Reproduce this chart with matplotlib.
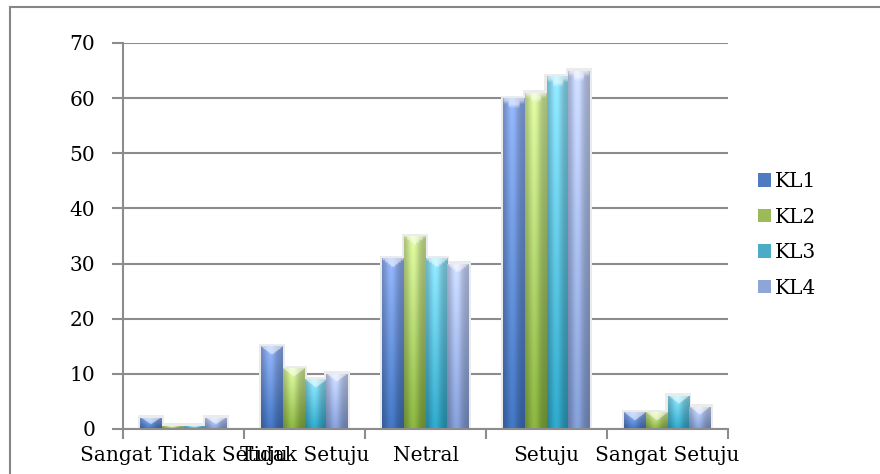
import numpy as np
import matplotlib.pyplot as plt
from matplotlib.colors import to_rgb
from matplotlib.lines import Line2D
from matplotlib.patches import Patch

# ==========================
# data
# ==========================

categories = ["Sangat Tidak Setuju", "Tidak Setuju", "Netral", "Setuju", "Sangat Setuju"]
series_names = ["KL1", "KL2", "KL3", "KL4"]

kl1 = [2, 15, 31, 60, 3]
kl2 = [0.6, 11, 35, 61, 3]
kl3 = [0.6, 9, 31, 64, 6]
kl4 = [2, 10, 30, 65, 4]

y_ticks = [0, 10, 20, 30, 40, 50, 60, 70]

# bottom (darker) / top (lighter) colour of each series
dark_cols = ["#3E6FB8", "#82AA3C", "#2C9FBF", "#7D96CC"]
light_cols = ["#8CABEC", "#D2EC98", "#8ADCF2", "#C4D2F6"]
legend_cols = ["#4F7CC0", "#9BBB59", "#4BACC6", "#8EA5D8"]

plt.rcParams["font.family"] = ["DejaVu Serif"]
plt.rcParams["font.size"] = 14.5

fig = plt.figure(figsize=(8.8, 4.74), dpi=100)
ax = fig.add_axes([123 / 880, 45 / 474, 605 / 880, 386 / 474])

bar_w = 0.18
offsets = np.array([-1.5, -0.5, 0.5, 1.5]) * bar_w
x = np.arange(len(categories))


def shaded_bar(xc, h, c_dark, c_light):
    # soft halo behind the bar
    ax.bar(xc, h + 0.45, width=bar_w + 0.035, color="#ebebeb",
           linewidth=0, zorder=1.5)
    patch = ax.bar(xc, h, width=bar_w, color=c_dark, linewidth=0,
                   zorder=2)[0]
    if h <= 0:
        return
    n_u, n_v = 40, 80
    u = np.linspace(0, 1, n_u)
    v = np.linspace(0, 1, n_v)[:, None]
    d0 = np.array(to_rgb(c_dark))
    d1 = np.array(to_rgb(c_light))
    base = d0[None, None, :] * (1 - v[..., None]) + d1[None, None, :] * v[..., None]
    base = np.broadcast_to(base, (n_v, n_u, 3)).copy()
    # rounded look across the bar
    bump = np.exp(-((u - 0.42) / 0.28) ** 2)
    shade = 0.80 + 0.28 * bump
    img = base * shade[None, :, None]
    # light chevron at the top
    y_data = v[:, 0] * h
    dist = h - y_data
    cap_h = min(1.5, h * 0.6)
    cap = dist[:, None] < cap_h * (1 - 2 * np.abs(u[None, :] - 0.5))
    img[cap] = img[cap] * 0.45 + 0.55
    img = np.clip(img, 0, 1)
    im = ax.imshow(img, extent=(xc - bar_w / 2, xc + bar_w / 2, 0, h),
                   origin="lower", aspect="auto", interpolation="bilinear",
                   zorder=2.5)
    im.set_clip_path(patch)


for i, vals in enumerate([kl1, kl2, kl3, kl4]):
    for j, val in enumerate(vals):
        shaded_bar(x[j] + offsets[i], val, dark_cols[i], light_cols[i])

ax.set_xlim(-0.5, len(categories) - 0.5)
ax.set_ylim(0, 70)
ax.set_aspect("auto")

# axes styling
ax.set_yticks(y_ticks)
ax.set_xticks(np.arange(len(categories) + 1) - 0.5, minor=False)
ax.set_xticklabels([])
ax.set_xticks(x, minor=True)
ax.set_xticklabels(categories, minor=True)
ax.tick_params(axis="x", which="minor", length=0, pad=12)
ax.tick_params(axis="x", which="major", length=7, width=1.5, color="#8c8c8c",
               direction="out")
ax.tick_params(axis="y", length=8, width=1.5, color="#8c8c8c", pad=12)

ax.yaxis.grid(True, color="#8c8c8c", linewidth=1.5, zorder=0)
ax.set_axisbelow(True)
for s in ["top", "right"]:
    ax.spines[s].set_visible(False)
for s in ["left", "bottom"]:
    ax.spines[s].set_color("#8c8c8c")
    ax.spines[s].set_linewidth(1.5)

# legend
handles = [Patch(facecolor=c, edgecolor="none") for c in legend_cols]
fig.legend(handles, series_names, loc="center left",
           bbox_to_anchor=(750 / 880, 1 - 235 / 474), frameon=False,
           handlelength=0.65, handleheight=0.65, handletextpad=0.2,
           labelspacing=0.82, borderaxespad=0)

# chart frame
fig.add_artist(Line2D([10 / 880, 1], [1 - 7 / 474, 1 - 7 / 474],
                      transform=fig.transFigure, color="#868686", linewidth=1.5))
fig.add_artist(Line2D([10 / 880, 10 / 880], [0, 1 - 7 / 474],
                      transform=fig.transFigure, color="#868686", linewidth=1.5))

fig.savefig("out.png", dpi=100)
